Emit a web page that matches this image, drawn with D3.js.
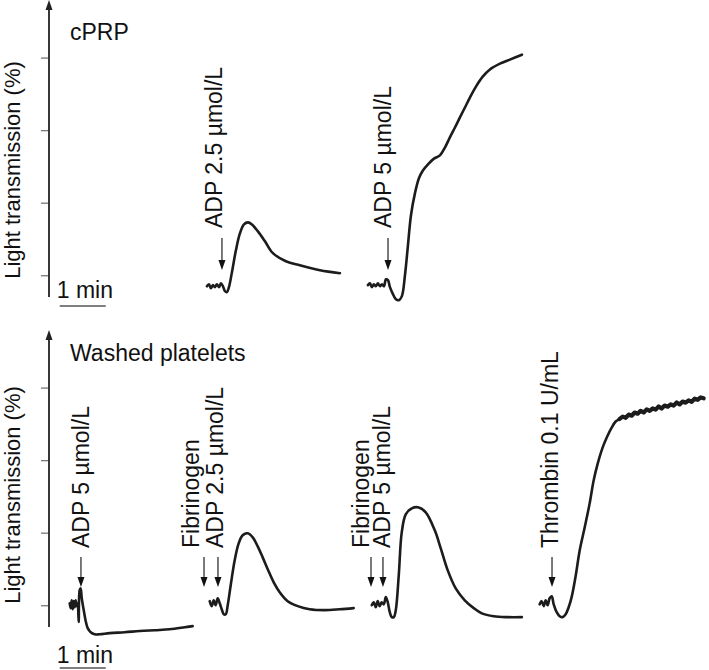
<!DOCTYPE html>
<html lang="en">
<head>
<meta charset="UTF-8">
<title>Platelet aggregation traces</title>
<script src="https://cdn.jsdelivr.net/npm/d3@7"></script>
<style>
    body { margin: 0; background: #fff; }
    svg { display: block; font-family: "Liberation Sans", Arial, sans-serif; }
</style>
</head>
<body>
<div id="chart"></div>
<script>

    // ---- data ----
    const panelTitles = ["cPRP", "Washed platelets"];
    const yLabel = "Light transmission (%)";
    const yTickValues = [0, 25, 50, 75];
    const scaleBar = [14, 74];          // seconds on the panel clock (1 min)
    const scaleBarLabel = "1 min";

    // each trace: [seconds after trace start, light transmission %]
    const cprpStarts = [206, 416];
    const cprpAdp25 = [[0,-3.8],[2.6,-3.1],[5.2,-4.5],[7.8,-3.4],[10.4,-4.1],[13,-3.1],[15.7,-4.1],[18.3,-2.8],
        [20.9,-3.8],[23.5,-5.5],[26.1,-5.8],[28.7,-4.1],[32.6,1.0],[37.8,8.6],[43,14.4],[48.3,17.5],[53.5,18.2],
        [58.7,17.5],[66.5,15.1],[75.7,11.7],[86.1,7.6],[103,4.8],[121.3,3.4],[147.4,1.7],[173.5,0.7]];
    const cprpAdp5 = [[0,-3.4],[2.6,-2.8],[5.2,-4.1],[7.8,-3.1],[10.4,-3.8],[13,-2.8],[15.7,-3.8],[18.3,-3.1],
        [20.9,-3.8],[23.5,-1.4],[26.1,-1.7],[28.7,-4.1],[32.6,-6.5],[36.5,-8.3],[40.4,-8.6],[44.3,-7.2],[48.3,0],
        [52.2,10.3],[56.1,20.6],[61.3,28.2],[66.5,33.4],[71.7,36.1],[78.3,38.2],[86.1,40.2],[93.9,41.3],
        [100.4,44.0],[106.9,47.5],[113.5,50.9],[120,54.4],[126.5,57.8],[133,61.2],[140.9,65.0],[150,68.5],
        [159.1,70.9],[172.2,72.9],[185.2,74.3],[200.9,76.0]];

    const washedStarts = [27, 207, 421, 640];
    const washedAdp5 = [[0,0.7],[1.3,-1.0],[2.6,1.7],[3.9,-1.4],[5.2,1.4],[6.5,-0.7],[7.8,1.7],[9.1,-0.3],
        [10.4,0.7],[11.7,-5.8],[13,5.2],[14.3,5.8],[15.7,2.4],[18.3,-1.7],[20.9,-5.5],[23.5,-7.9],[27.4,-9.3],
        [32.6,-10.0],[39.1,-10.0],[52.2,-9.6],[71.7,-9.3],[91.3,-8.9],[110.9,-8.6],[130.4,-8.3],[150,-7.6],[160.4,-7.2]];
    const washedFibAdp25 = [[2.6,1.4],[5.2,-0.3],[7.8,1.7],[10.4,0],[13,2.4],[15.7,0.7],[18.3,-1.4],[20.9,-3.1],
        [23.5,-3.1],[26.1,0],[30,6.9],[35.2,15.5],[40.4,21.3],[45.6,24.1],[52.2,24.8],[58.7,23.4],[65.2,20.3],
        [71.7,16.5],[78.3,12.4],[86.1,7.9],[93.9,4.5],[104.3,1.4],[117.4,-0.3],[133,-1.4],[152.6,-1.7],
        [172.2,-1.4],[190.4,-1.0]];
    const washedFibAdp5 = [[0,0],[2.6,1.0],[5.2,-0.7],[7.8,1.4],[10.4,-0.3],[13,1.0],[15.7,0.3],[18.3,2.8],
        [20.9,1.0],[23.5,-2.4],[26.1,-4.1],[28.7,-4.1],[31.3,-1.7],[35.2,10.3],[39.1,25.1],[44.3,31.3],
        [52.2,33.4],[61.3,33.7],[70.4,32.0],[82.2,25.8],[90,19.6],[99.1,12.0],[109.5,5.8],[121.3,1.7],
        [133,-1.0],[143.5,-2.8],[159.1,-3.8],[177.4,-4.1],[195.7,-4.1]];
    const washedThrombin = [[0,0.3],[2.6,1.4],[5.2,-0.3],[7.8,1.7],[10.4,0],[13,2.4],[15.7,3.1],[18.3,0.3],
        [22.2,-2.4],[26.1,-3.8],[30,-4.1],[33.9,-3.1],[37.8,-0.7],[41.7,2.8],[46.9,10.0],[52.2,18.9],[58.7,26.8],
        [65.2,35.1],[70.4,43.0],[75.7,48.8],[82.2,54.4],[87.5,57.8],[93.9,61.2],[99.1,63.3],[104.3,64.2],
        [108.3,65.0],[112.2,64.6],[116.1,65.7],[120,65.3],[123.9,66.4],[127.8,66.0],[131.7,67.0],[135.7,66.4],
        [139.6,67.5],[143.5,67.0],[147.4,67.8],[151.3,67.4],[155.2,68.5],[159.1,67.8],[163,68.8],[167,68.4],
        [170.9,69.2],[174.8,68.8],[178.7,69.9],[182.6,69.2],[186.5,70.2],[190.4,69.8],[194.3,70.6],[198.3,70.1],
        [202.2,71.2],[206.1,70.8],[210,71.6],[213.9,71.3]];
    const thrombinNoiseFrom = 100;      // seconds after start where the trace turns noisy

    // agonist additions (seconds after trace start) and their labels
    const cprpArrows = [[19.6], [26.2]];
    const cprpLabels = [["ADP 2.5 µmol/L"], ["ADP 5 µmol/L"]];
    const washedArrows = [[14.7], [-4.8, 13.4], [-1.0, 14.6], [16.1]];
    const washedLabels = [["ADP 5 µmol/L"], ["Fibrinogen", "ADP 2.5 µmol/L"],
        ["Fibrinogen", "ADP 5 µmol/L"], ["Thrombin 0.1 U/mL"]];

    // ---- layout ----
    const width = 709;
    const height = 670;
    const axisX = 49;
    const fontSize = 23;

    const panels = [
        {title: panelTitles[0], top: 1, bottom: 297, titleY: 40, labelMidY: 170, arrowTop: 238, arrowTip: 270,
         labelBottom: 228, minY: 298, barY: 306, labelDx: [0, 3], labelGap: [0, 0],
         starts: cprpStarts, traces: [cprpAdp25, cprpAdp5], arrows: cprpArrows, labels: cprpLabels},
        {title: panelTitles[1], top: 331, bottom: 627, titleY: 361, labelMidY: 495, arrowTop: 557, arrowTip: 587,
         labelBottom: 548, minY: 663, barY: 668, labelDx: [8, 5, 7, 6], labelGap: [0, 24, 21, 0],
         starts: washedStarts, traces: [washedAdp5, washedFibAdp25, washedFibAdp5, washedThrombin],
         arrows: washedArrows, labels: washedLabels}
    ];

    // panel clock: 1 min = 46 px
    const x = d3.scaleLinear().domain([0, 60]).range([axisX, axisX + 46]);

    const svg = d3.select("#chart").append("svg")
        .attr("width", width)
        .attr("height", height)
        .attr("viewBox", [0, 0, width, height]);

    panels.forEach((p, pi) => {
        const y = d3.scaleLinear().domain([-7.5, 94.5]).range([p.bottom, p.top]);
        const g = svg.append("g");

        // ticks
        g.append("g")
            .attr("transform", `translate(${axisX},0)`)
            .call(d3.axisLeft(y).tickValues(yTickValues).tickSize(8).tickSizeOuter(0).tickFormat(""))
            .call(a => a.select(".domain").remove())
            .call(a => a.selectAll(".tick line").attr("stroke", "#777").attr("stroke-width", 1.3));

        // vertical axis with arrow head
        g.append("line")
            .attr("x1", axisX).attr("x2", axisX)
            .attr("y1", p.bottom).attr("y2", p.top + 6)
            .attr("stroke", "#222").attr("stroke-width", 1.8);
        g.append("path")
            .attr("d", `M${axisX - 3.5},${p.top + 9}L${axisX + 3.5},${p.top + 9}L${axisX},${p.top - 1}Z`)
            .attr("fill", "#222");

        g.append("text")
            .attr("transform", `translate(20,${p.labelMidY}) rotate(-90)`)
            .attr("text-anchor", "middle")
            .attr("font-size", 22)
            .attr("fill", "#111")
            .text(yLabel);

        g.append("text")
            .attr("x", axisX + 21).attr("y", p.titleY)
            .attr("font-size", fontSize)
            .attr("fill", "#111")
            .text(p.title);

        // 1 min scale bar
        g.append("text")
            .attr("x", x(scaleBar[0]) - 3).attr("y", p.minY)
            .attr("font-size", fontSize)
            .attr("fill", "#111")
            .text(scaleBarLabel);
        g.append("line")
            .attr("x1", x(scaleBar[0])).attr("x2", x(scaleBar[1]))
            .attr("y1", p.barY).attr("y2", p.barY)
            .attr("stroke", "#555").attr("stroke-width", 1.4);

        const line = d3.line()
            .x(d => d[0])
            .y(d => y(d[1]))
            .curve(d3.curveCatmullRom.alpha(0.5));

        p.traces.forEach((tr, i) => {
            const t0 = p.starts[i];
            g.append("path")
                .datum(tr.map(d => [x(t0 + d[0]), d[1]]))
                .attr("fill", "none")
                .attr("stroke", "#1c1c1c")
                .attr("stroke-width", 2.6)
                .attr("stroke-linejoin", "round")
                .attr("stroke-linecap", "round")
                .attr("d", line);

            // noisy plateau of the thrombin trace reads as a thick band
            if (tr === washedThrombin) {
                g.append("path")
                    .datum(tr.filter(d => d[0] >= thrombinNoiseFrom).map(d => [x(t0 + d[0]), d[1]]))
                    .attr("fill", "none")
                    .attr("stroke", "#1c1c1c")
                    .attr("stroke-width", 4.2)
                    .attr("stroke-linejoin", "round")
                    .attr("stroke-linecap", "round")
                    .attr("d", d3.line().x(d => d[0]).y(d => y(d[1])));
            }

            const arr = p.arrows[i];
            arr.forEach(a => {
                const ax = x(t0 + a);
                g.append("line")
                    .attr("x1", ax).attr("x2", ax)
                    .attr("y1", p.arrowTop).attr("y2", p.arrowTip - 8)
                    .attr("stroke", "#222").attr("stroke-width", 1.2);
                g.append("path")
                    .attr("d", `M${ax - 3.5},${p.arrowTip - 10}L${ax + 3.5},${p.arrowTip - 10}L${ax},${p.arrowTip}Z`)
                    .attr("fill", "#111");
            });

            const lastX = x(t0 + arr[arr.length - 1]);
            const labs = p.labels[i];
            labs.forEach((txt, j) => {
                const bx = lastX + p.labelDx[i] - (labs.length - 1 - j) * p.labelGap[i];
                g.append("text")
                    .attr("transform", `translate(${bx},${p.labelBottom}) rotate(-90)`)
                    .attr("font-size", fontSize)
                    .attr("fill", "#111")
                    .text(txt);
            });
        });
    });

</script>
</body>
</html>
